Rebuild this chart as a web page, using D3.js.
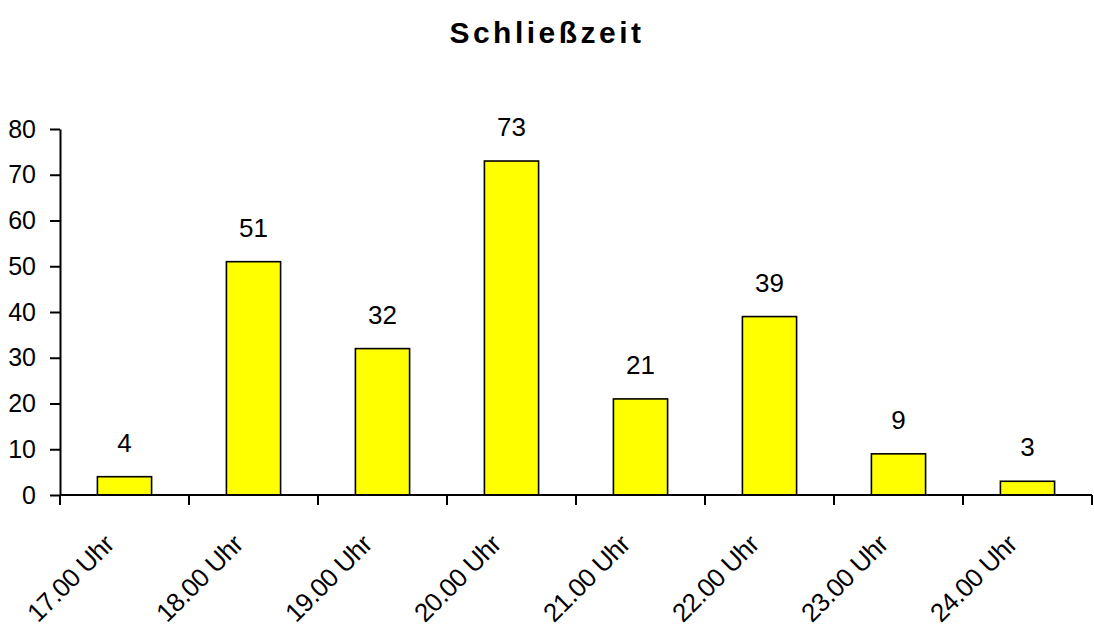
<!DOCTYPE html>
<html>
<head>
<meta charset="utf-8">
<script src="https://cdn.jsdelivr.net/npm/d3@7"></script>
<style>
  body { margin: 0; background: #fff; }
  svg { display: block; }
  text { font-family: "Liberation Sans", Arial, sans-serif; fill: #000; }
</style>
</head>
<body>
<svg id="chart" width="1094" height="642"></svg>
<script>
// Closing times and number of answers per time
const categories = ["17.00 Uhr", "18.00 Uhr", "19.00 Uhr", "20.00 Uhr", "21.00 Uhr", "22.00 Uhr", "23.00 Uhr", "24.00 Uhr"];
const values = [4, 51, 32, 73, 21, 39, 9, 3];
const yTicks = [0, 10, 20, 30, 40, 50, 60, 70, 80];
const title = "Schließzeit";

const svg = d3.select("#chart");
const plot = { left: 60, right: 1092, top: 129, bottom: 495 };

const x = d3.scaleBand()
  .domain(categories)
  .range([plot.left, plot.right])
  .paddingInner(0.58)
  .paddingOuter(0.29);

const y = d3.scaleLinear()
  .domain([0, 80])
  .range([plot.bottom, plot.top]);

// Title
svg.append("text")
  .attr("x", 547)
  .attr("y", 43)
  .attr("text-anchor", "middle")
  .style("font-size", "30px")
  .style("font-weight", "bold")
  .style("letter-spacing", "3.5px")
  .text(title);

// Bars
svg.append("g").selectAll("rect")
  .data(values)
  .join("rect")
  .attr("x", (d, i) => x(categories[i]))
  .attr("y", d => y(d))
  .attr("width", x.bandwidth())
  .attr("height", d => y(0) - y(d))
  .attr("fill", "#ffff00")
  .attr("stroke", "#000")
  .attr("stroke-width", 1.6);

// Value labels above the bars
svg.append("g").selectAll("text")
  .data(values)
  .join("text")
  .attr("x", (d, i) => x(categories[i]) + x.bandwidth() / 2)
  .attr("y", d => y(d) - 25)
  .attr("text-anchor", "middle")
  .style("font-size", "26px")
  .text(d => d);

// Y axis
const yAxis = svg.append("g")
  .attr("transform", `translate(${plot.left},0)`)
  .call(d3.axisLeft(y).tickValues(yTicks).tickSize(10).tickPadding(14).tickSizeOuter(0));
yAxis.select(".domain").attr("stroke", "#000").attr("stroke-width", 2);
yAxis.selectAll(".tick line").attr("stroke", "#000").attr("stroke-width", 2);
yAxis.selectAll(".tick text")
  .style("font-size", "25px")
  .style("font-family", "'Liberation Sans', Arial, sans-serif")
  .attr("fill", "#000");

// X axis: ticks sit on the category boundaries
const boundaries = d3.range(categories.length + 1).map(i => plot.left + i * x.step());
const xAxisG = svg.append("g");
xAxisG.append("line")
  .attr("x1", plot.left).attr("x2", plot.right)
  .attr("y1", plot.bottom).attr("y2", plot.bottom)
  .attr("stroke", "#000").attr("stroke-width", 2);
xAxisG.selectAll("line.tick")
  .data(boundaries)
  .join("line")
  .attr("class", "tick")
  .attr("x1", d => d).attr("x2", d => d)
  .attr("y1", plot.bottom).attr("y2", plot.bottom + 10)
  .attr("stroke", "#000").attr("stroke-width", 2);

// Rotated category labels
xAxisG.selectAll("text")
  .data(categories)
  .join("text")
  .attr("transform", d => `translate(${x(d) + x.bandwidth() / 2 - 9},546) rotate(-45)`)
  .attr("text-anchor", "end")
  .style("font-size", "26px")
  .style("letter-spacing", "-0.5px")
  .text(d => d);
</script>
</body>
</html>
